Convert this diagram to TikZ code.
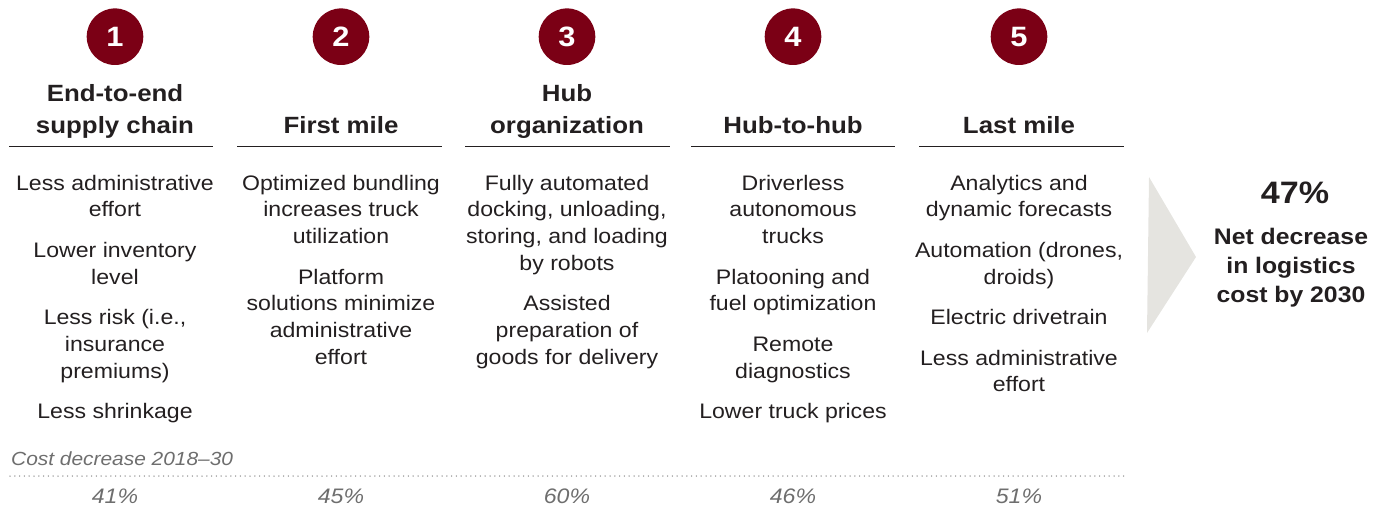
\documentclass[tikz,border=0pt]{standalone}
\usepackage{fontspec}
\setmainfont{Liberation Sans}[FakeStretch=1.1]
\definecolor{cred}{RGB}{123,0,21}
\definecolor{ctext}{RGB}{35,31,32}
\definecolor{cgray}{RGB}{110,110,110}
\definecolor{cdots}{RGB}{140,140,140}
\definecolor{carrow}{RGB}{229,228,224}
\begin{document}
\begin{tikzpicture}[x=1pt,y=-1pt,
  numcirc/.style={circle,fill=cred,minimum size=56.6pt,inner sep=0pt,text=white,font=\bfseries\fontsize{28}{30}\selectfont},
  headtxt/.style={align=center,anchor=base,inner sep=0pt,text=ctext,font=\bfseries\fontsize{23.5}{31.3}\selectfont},
  bodytxt/.style={align=center,anchor=base,inner sep=0pt,text=ctext,font=\fontsize{21}{26.8}\selectfont},
  pcttxt/.style={anchor=base,inner sep=0pt,text=cgray,font=\itshape\fontsize{21}{24}\selectfont},
  rulel/.style={draw=ctext,line width=1.3pt},
  dotl/.style={draw=cdots,line width=1.5pt,line cap=round,dash pattern=on 0pt off 4.8pt},
  bigtxt/.style={align=center,anchor=base,inner sep=0pt,text=ctext,font=\bfseries\fontsize{22.5}{29}\selectfont}
]
\useasboundingbox (0,0) rectangle (1386,508);

% number circles
\node[numcirc] (n1) at (115,36.7) {1};
\node[numcirc] (n2) at (341,36.7) {2};
\node[numcirc] (n3) at (567,36.7) {3};
\node[numcirc] (n4) at (793,36.7) {4};
\node[numcirc] (n5) at (1019,36.7) {5};

% headers (anchor = baseline of last line)
\node[headtxt] (h1) at (115,133) {End-to-end\\supply chain};
\node[headtxt] (h2) at (341,133) {First mile};
\node[headtxt] (h3) at (567,133) {Hub\\organization};
\node[headtxt] (h4) at (793,133) {Hub-to-hub};
\node[headtxt] (h5) at (1019,133) {Last mile};

% header rules
\coordinate (r1a) at (9,146.7);   \coordinate (r1b) at (213,146.7);
\coordinate (r2a) at (237,146.7); \coordinate (r2b) at (442,146.7);
\coordinate (r3a) at (465,146.7); \coordinate (r3b) at (670,146.7);
\coordinate (r4a) at (691,146.7); \coordinate (r4b) at (895,146.7);
\coordinate (r5a) at (919,146.7); \coordinate (r5b) at (1124,146.7);
\draw[rulel] (r1a) -- (r1b);
\draw[rulel] (r2a) -- (r2b);
\draw[rulel] (r3a) -- (r3b);
\draw[rulel] (r4a) -- (r4b);
\draw[rulel] (r5a) -- (r5b);

% body texts (anchor = baseline of last line)
\node[bodytxt] (b1) at (115,418.7) {Less administrative\\effort\\[13.7pt]Lower inventory\\level\\[13.7pt]Less risk (i.e.,\\insurance\\premiums)\\[13.7pt]Less shrinkage};
\node[bodytxt] (b2) at (341,364.5) {Optimized bundling\\increases truck\\utilization\\[13.7pt]Platform\\solutions minimize\\administrative\\effort};
\node[bodytxt] (b3) at (567,364.5) {Fully automated\\docking, unloading,\\storing, and loading\\by robots\\[13.7pt]Assisted\\preparation of\\goods for delivery};
\node[bodytxt] (b4) at (793,418.7) {Driverless\\autonomous\\trucks\\[13.7pt]Platooning and\\fuel optimization\\[13.7pt]Remote\\diagnostics\\[13.7pt]Lower truck prices};
\node[bodytxt] (b5) at (1019,391.9) {Analytics and\\dynamic forecasts\\[13.7pt]Automation (drones,\\droids)\\[13.7pt]Electric drivetrain\\[13.7pt]Less administrative\\effort};

% arrow and total
\coordinate (ta) at (1149,177);
\coordinate (tb) at (1196,257);
\coordinate (tc) at (1147,333);
\fill[carrow] (ta) -- (tb) -- (tc) -- cycle;
\node[anchor=base,inner sep=0pt,text=ctext,font=\bfseries\fontsize{31}{34}\selectfont] (tot) at (1295,203) {47\%};
\node[bigtxt] (net) at (1291,302) {Net decrease\\in logistics\\cost by 2030};

% bottom row
\node[anchor=base west,inner sep=0pt,text=cgray,font=\itshape\fontsize{19}{22}\selectfont] (cap) at (11,465) {Cost decrease 2018--30};
\coordinate (da) at (10,476);
\coordinate (db) at (1124,476);
\draw[dotl] (da) -- (db);
\node[pcttxt] (p1) at (115,503) {41\%};
\node[pcttxt] (p2) at (341,503) {45\%};
\node[pcttxt] (p3) at (567,503) {60\%};
\node[pcttxt] (p4) at (793,503) {46\%};
\node[pcttxt] (p5) at (1019,503) {51\%};
\end{tikzpicture}
\end{document}
